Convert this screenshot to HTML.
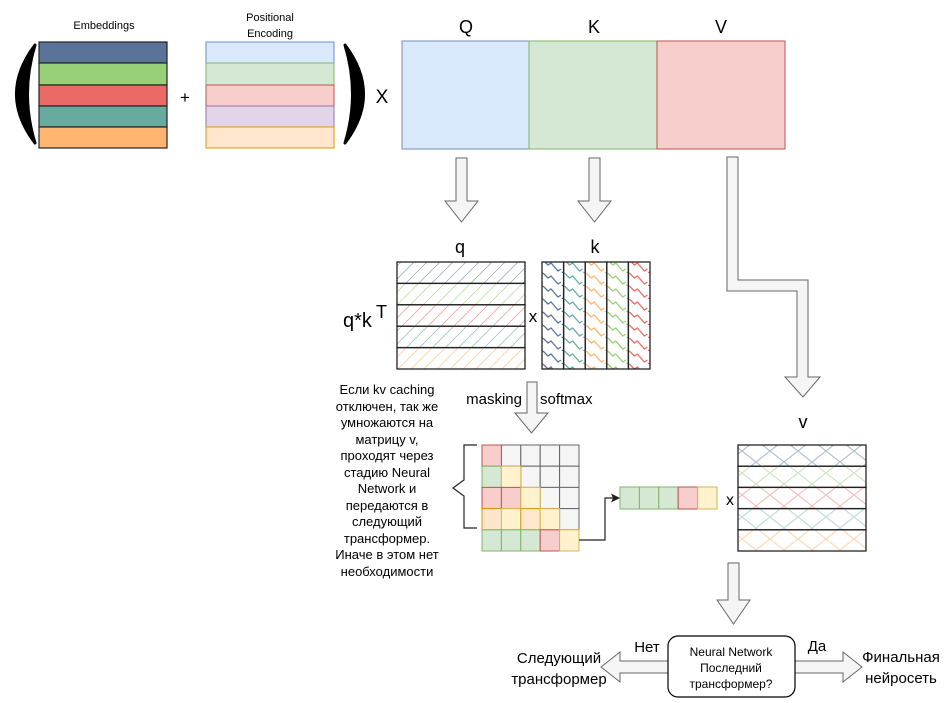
<!DOCTYPE html>
<html><head><meta charset="utf-8"><style>html,body{margin:0;padding:0;background:#fff}svg{display:block}text{font-family:"Liberation Sans","DejaVu Sans",sans-serif;fill:#000}</style></head><body>
<svg width="945" height="703" viewBox="0 0 945 703" xmlns="http://www.w3.org/2000/svg">
<defs>
<pattern id="dB" width="13" height="13" patternUnits="userSpaceOnUse"><path d="M0,13L13,0M-2,2L2,-2M11,15L15,11" stroke="#9fb2d2" stroke-width="0.8"/></pattern>
<pattern id="dG" width="13" height="13" patternUnits="userSpaceOnUse"><path d="M0,13L13,0M-2,2L2,-2M11,15L15,11" stroke="#b9e2a4" stroke-width="0.8"/></pattern>
<pattern id="dR" width="13" height="13" patternUnits="userSpaceOnUse"><path d="M0,13L13,0M-2,2L2,-2M11,15L15,11" stroke="#f2a3a0" stroke-width="0.8"/></pattern>
<pattern id="dT" width="13" height="13" patternUnits="userSpaceOnUse"><path d="M0,13L13,0M-2,2L2,-2M11,15L15,11" stroke="#9ccbc3" stroke-width="0.8"/></pattern>
<pattern id="dO" width="13" height="13" patternUnits="userSpaceOnUse"><path d="M0,13L13,0M-2,2L2,-2M11,15L15,11" stroke="#ffcf9f" stroke-width="0.8"/></pattern>
<pattern id="zB" width="21.6" height="13" patternUnits="userSpaceOnUse"><path d="M3,0L8,5L11,3L18,11L21,9M3,0L0,-1M-1,12L3,13" fill="none" stroke="#5a7399" stroke-width="1.3"/></pattern>
<pattern id="zT" width="21.6" height="13" patternUnits="userSpaceOnUse"><path d="M3,0L8,5L11,3L18,11L21,9M3,0L0,-1M-1,12L3,13" fill="none" stroke="#67ab9f" stroke-width="1.3"/></pattern>
<pattern id="zO" width="21.6" height="13" patternUnits="userSpaceOnUse"><path d="M3,0L8,5L11,3L18,11L21,9M3,0L0,-1M-1,12L3,13" fill="none" stroke="#ffb570" stroke-width="1.3"/></pattern>
<pattern id="zG" width="21.6" height="13" patternUnits="userSpaceOnUse"><path d="M3,0L8,5L11,3L18,11L21,9M3,0L0,-1M-1,12L3,13" fill="none" stroke="#97d077" stroke-width="1.3"/></pattern>
<pattern id="zR" width="21.6" height="13" patternUnits="userSpaceOnUse"><path d="M3,0L8,5L11,3L18,11L21,9M3,0L0,-1M-1,12L3,13" fill="none" stroke="#ea6b66" stroke-width="1.3"/></pattern>
<pattern id="xB" width="28" height="22" patternUnits="userSpaceOnUse"><path d="M0,0L28,22M28,0L0,22" stroke="#b3bfd6" stroke-width="1.2"/></pattern>
<pattern id="xG" width="28" height="22" patternUnits="userSpaceOnUse"><path d="M0,0L28,22M28,0L0,22" stroke="#cfe6c2" stroke-width="1.2"/></pattern>
<pattern id="xR" width="28" height="22" patternUnits="userSpaceOnUse"><path d="M0,0L28,22M28,0L0,22" stroke="#f5c0be" stroke-width="1.2"/></pattern>
<pattern id="xT" width="28" height="22" patternUnits="userSpaceOnUse"><path d="M0,0L28,22M28,0L0,22" stroke="#c0ddd8" stroke-width="1.2"/></pattern>
<pattern id="xO" width="28" height="22" patternUnits="userSpaceOnUse"><path d="M0,0L28,22M28,0L0,22" stroke="#ffd9b5" stroke-width="1.2"/></pattern>
</defs>

<!-- Embeddings -->
<text x="104" y="29" font-size="11" text-anchor="middle">Embeddings</text>
<g stroke="#222" stroke-width="1.2">
<rect x="39" y="42" width="128" height="21" fill="#5a7399"/>
<rect x="39" y="63" width="128" height="22" fill="#97d077"/>
<rect x="39" y="85" width="128" height="21" fill="#ea6b66"/>
<rect x="39" y="106" width="128" height="21" fill="#67ab9f"/>
<rect x="39" y="127" width="128" height="21" fill="#ffb570"/>
</g>
<text x="270" y="21" font-size="11" text-anchor="middle">Positional</text>
<text x="270" y="37" font-size="11" text-anchor="middle">Encoding</text>
<rect x="206" y="42" width="128" height="21" fill="#dae8fc" stroke="#6c8ebf"/>
<rect x="206" y="63" width="128" height="22" fill="#d5e8d4" stroke="#82b366"/>
<rect x="206" y="85" width="128" height="21" fill="#f8cecc" stroke="#b85450"/>
<rect x="206" y="106" width="128" height="21" fill="#e1d5e7" stroke="#9673a6"/>
<rect x="206" y="127" width="128" height="21" fill="#ffe6cc" stroke="#d79b00"/>
<path d="M35,45 Q-2,94 35,143 Q20,94 35,45 Z" fill="#000" stroke="#000" stroke-width="3" stroke-linejoin="round"/>
<path d="M345,45 Q382,94 345,143 Q360,94 345,45 Z" fill="#000" stroke="#000" stroke-width="3" stroke-linejoin="round"/>
<text x="185" y="103" font-size="17" text-anchor="middle">+</text>
<text x="382" y="103" font-size="19" text-anchor="middle">X</text>

<!-- QKV -->
<text x="466" y="33" font-size="18" text-anchor="middle">Q</text>
<text x="594" y="33" font-size="18" text-anchor="middle">K</text>
<text x="721" y="33" font-size="18" text-anchor="middle">V</text>
<rect x="402" y="41" width="127" height="108" fill="#dae8fc" stroke="#6c8ebf"/>
<rect x="529" y="41" width="128" height="108" fill="#d5e8d4" stroke="#82b366"/>
<rect x="657" y="41" width="128" height="108" fill="#f8cecc" stroke="#b85450"/>

<!-- down arrows -->
<g fill="#f5f5f5" stroke="#666" stroke-width="1">
<path d="M456,158H467V201H478L461.5,222L445,201H456Z"/>
<path d="M589,158H600V201H611L594.5,222L578,201H589Z"/>
<path d="M727,157H738V280H808V377H820L803,397L785,377H797V291H727Z"/>
<path d="M527,382H537V413H548L531.5,433L515,413H527Z"/>
<path d="M728,563H739V600H750L733.5,624L717,600H728Z"/>
<path d="M668,661H620V652L601,667L620,682V673H668Z"/>
<path d="M795,661H843V652L862,667L843,682V673H795Z"/>
</g>

<!-- q matrix -->
<text x="460" y="253" font-size="18" text-anchor="middle">q</text>
<text x="595" y="253" font-size="18" text-anchor="middle">k</text>
<g stroke="#222" stroke-width="1.3">
<rect x="397" y="262" width="128" height="21.4" fill="url(#dB)"/>
<rect x="397" y="283.4" width="128" height="21.4" fill="url(#dG)"/>
<rect x="397" y="304.8" width="128" height="21.4" fill="url(#dR)"/>
<rect x="397" y="326.2" width="128" height="21.4" fill="url(#dT)"/>
<rect x="397" y="347.6" width="128" height="21.4" fill="url(#dO)"/>
<rect x="542" y="262" width="21.6" height="107" fill="url(#zB)"/>
<rect x="563.6" y="262" width="21.6" height="107" fill="url(#zT)"/>
<rect x="585.2" y="262" width="21.6" height="107" fill="url(#zO)"/>
<rect x="606.8" y="262" width="21.6" height="107" fill="url(#zG)"/>
<rect x="628.4" y="262" width="21.6" height="107" fill="url(#zR)"/>
</g>
<text x="533" y="322" font-size="17" text-anchor="middle">x</text>
<text x="343" y="327" font-size="20">q*k</text>
<text x="376" y="318" font-size="18">T</text>

<text x="522" y="404" font-size="15" text-anchor="end">masking</text>
<text x="540" y="404" font-size="15">softmax</text>

<g font-size="13" text-anchor="middle">
<text x="387" y="394">Если kv caching</text>
<text x="387" y="411">отключен, так же</text>
<text x="387" y="427">умножаются на</text>
<text x="387" y="444">матрицу v,</text>
<text x="387" y="460">проходят через</text>
<text x="387" y="477">стадию Neural</text>
<text x="387" y="493">Network и</text>
<text x="387" y="510">передаются в</text>
<text x="387" y="526">следующий</text>
<text x="387" y="543">трансформер.</text>
<text x="387" y="559">Иначе в этом нет</text>
<text x="387" y="576">необходимости</text>
</g>
<path d="M477,445H464V480L453,488L464,496V528H477" fill="none" stroke="#222" stroke-width="1.2"/>

<!-- attention grid -->
<g stroke-width="1">
<g fill="#f5f5f5" stroke="#666">
<rect x="501.4" y="445" width="19.4" height="21.2"/><rect x="520.8" y="445" width="19.4" height="21.2"/><rect x="540.2" y="445" width="19.4" height="21.2"/><rect x="559.6" y="445" width="19.4" height="21.2"/>
<rect x="520.8" y="466.2" width="19.4" height="21.2"/><rect x="540.2" y="466.2" width="19.4" height="21.2"/><rect x="559.6" y="466.2" width="19.4" height="21.2"/>
<rect x="540.2" y="487.4" width="19.4" height="21.2"/><rect x="559.6" y="487.4" width="19.4" height="21.2"/>
<rect x="559.6" y="508.6" width="19.4" height="21.2"/>
</g>
<rect x="482" y="445" width="19.4" height="21.2" fill="#f8cecc" stroke="#b85450"/>
<rect x="482" y="466.2" width="19.4" height="21.2" fill="#d5e8d4" stroke="#82b366"/>
<rect x="501.4" y="466.2" width="19.4" height="21.2" fill="#fff2cc" stroke="#d6b656"/>
<rect x="482" y="487.4" width="19.4" height="21.2" fill="#f8cecc" stroke="#b85450"/>
<rect x="501.4" y="487.4" width="19.4" height="21.2" fill="#f8cecc" stroke="#b85450"/>
<rect x="520.8" y="487.4" width="19.4" height="21.2" fill="#fff2cc" stroke="#d6b656"/>
<rect x="482" y="508.6" width="19.4" height="21.2" fill="#ffe6cc" stroke="#d79b00"/>
<rect x="501.4" y="508.6" width="19.4" height="21.2" fill="#fff2cc" stroke="#d6b656"/>
<rect x="520.8" y="508.6" width="19.4" height="21.2" fill="#ffe6cc" stroke="#d79b00"/>
<rect x="540.2" y="508.6" width="19.4" height="21.2" fill="#fff2cc" stroke="#d6b656"/>
<rect x="482" y="529.8" width="19.4" height="21.2" fill="#d5e8d4" stroke="#82b366"/>
<rect x="501.4" y="529.8" width="19.4" height="21.2" fill="#d5e8d4" stroke="#82b366"/>
<rect x="520.8" y="529.8" width="19.4" height="21.2" fill="#d5e8d4" stroke="#82b366"/>
<rect x="540.2" y="529.8" width="19.4" height="21.2" fill="#f8cecc" stroke="#b85450"/>
<rect x="559.6" y="529.8" width="19.4" height="21.2" fill="#fff2cc" stroke="#d6b656"/>
</g>
<path d="M579,540H605V498H614" fill="none" stroke="#222" stroke-width="1.2"/>
<path d="M620,498L611,493.5L613,498L611,502.5Z" fill="#222"/>

<!-- vector -->
<rect x="620" y="487" width="19.4" height="22" fill="#d5e8d4" stroke="#82b366"/>
<rect x="639.4" y="487" width="19.4" height="22" fill="#d5e8d4" stroke="#82b366"/>
<rect x="658.8" y="487" width="19.4" height="22" fill="#d5e8d4" stroke="#82b366"/>
<rect x="678.2" y="487" width="19.4" height="22" fill="#f8cecc" stroke="#b85450"/>
<rect x="697.6" y="487" width="19.4" height="22" fill="#fff2cc" stroke="#d6b656"/>
<text x="730" y="505" font-size="16" text-anchor="middle">x</text>

<!-- v matrix -->
<text x="803" y="428" font-size="18" text-anchor="middle">v</text>
<g stroke="#222" stroke-width="1.3">
<rect x="738" y="445" width="128" height="21.2" fill="url(#xB)"/>
<rect x="738" y="466.2" width="128" height="21.2" fill="url(#xG)"/>
<rect x="738" y="487.4" width="128" height="21.2" fill="url(#xR)"/>
<rect x="738" y="508.6" width="128" height="21.2" fill="url(#xT)"/>
<rect x="738" y="529.8" width="128" height="21.2" fill="url(#xO)"/>
</g>

<!-- decision -->
<rect x="668" y="636" width="127" height="61" rx="10" fill="#fff" stroke="#000" stroke-width="1.2"/>
<g font-size="12" text-anchor="middle">
<text x="731" y="656">Neural Network</text>
<text x="731" y="672">Последний</text>
<text x="731" y="688">трансформер?</text>
</g>
<text x="647" y="652" font-size="15" text-anchor="middle">Нет</text>
<text x="817" y="651" font-size="15" text-anchor="middle">Да</text>
<text x="559" y="663" font-size="15" text-anchor="middle">Следующий</text>
<text x="559" y="684" font-size="15" text-anchor="middle">трансформер</text>
<text x="901" y="662" font-size="15" text-anchor="middle">Финальная</text>
<text x="901" y="683" font-size="15" text-anchor="middle">нейросеть</text>
</svg>
</body></html>
